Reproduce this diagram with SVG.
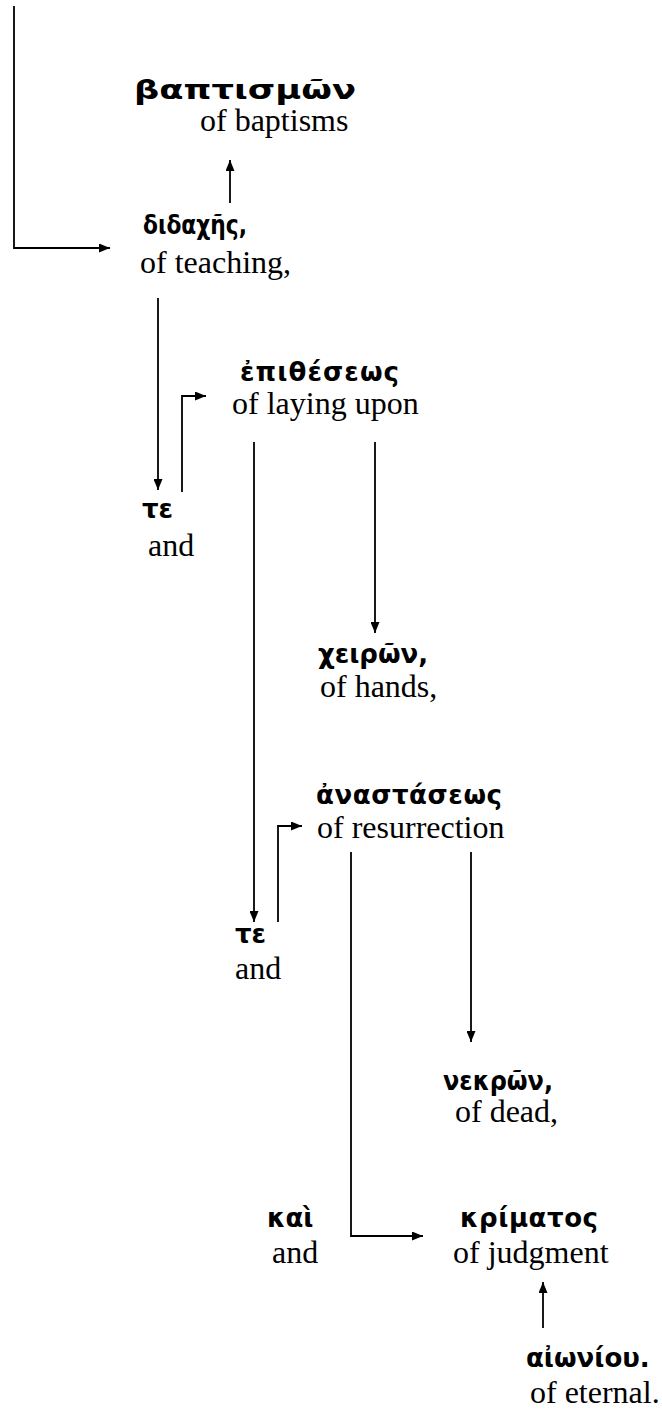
<svg xmlns="http://www.w3.org/2000/svg" width="662" height="1410" viewBox="0 0 662 1410">
<style>
.gk{font-family:"DejaVu Sans","Noto Sans",sans-serif;font-weight:bold;font-size:26px;fill:#000}
.en{font-family:"Liberation Serif","Times New Roman",serif;font-size:32px;fill:#000}
.ln{fill:none;stroke:#000;stroke-width:1.8}
</style>
<defs>
<marker id="ah" viewBox="0 0 11 9" refX="11" refY="4.5" markerWidth="11" markerHeight="9" markerUnits="userSpaceOnUse" orient="auto">
<path d="M0,0 L11,4.5 L0,9 z" fill="#000"/>
</marker>
</defs>
<rect width="662" height="1410" fill="#fff"/>
<g id="connectors">
<path class="ln" d="M14,6 V248 H110" marker-end="url(#ah)"/>
<path class="ln" d="M230,203 V160" marker-end="url(#ah)"/>
<path class="ln" d="M158,298 V490" marker-end="url(#ah)"/>
<path class="ln" d="M182,492 V396 H206" marker-end="url(#ah)"/>
<path class="ln" d="M254,442 V922" marker-end="url(#ah)"/>
<path class="ln" d="M375,442 V633" marker-end="url(#ah)"/>
<path class="ln" d="M278,922 V826 H302" marker-end="url(#ah)"/>
<path class="ln" d="M351,852 V1236 H423" marker-end="url(#ah)"/>
<path class="ln" d="M471,852 V1042" marker-end="url(#ah)"/>
<path class="ln" d="M543,1328 V1282" marker-end="url(#ah)"/>
</g>
<g id="n-baptismon"><text class="gk" x="134" y="99" font-size="28" textLength="222" lengthAdjust="spacingAndGlyphs">βαπτισμῶν</text><text class="en" x="200" y="131">of baptisms</text></g>
<g id="n-didaches"><text class="gk" x="143" y="234" textLength="104" lengthAdjust="spacingAndGlyphs">διδαχῆς,</text><text class="en" x="140" y="273">of teaching,</text></g>
<g id="n-epitheseos"><text class="gk" x="240" y="381" textLength="159" lengthAdjust="spacing">ἐπιθέσεως</text><text class="en" x="232" y="414">of laying upon</text></g>
<g id="n-te1"><text class="gk" x="142" y="518">τε</text><text class="en" x="148" y="556">and</text></g>
<g id="n-cheiron"><text class="gk" x="318" y="663">χειρῶν,</text><text class="en" x="320" y="697">of hands,</text></g>
<g id="n-anastaseos"><text class="gk" x="316" y="804" textLength="186" lengthAdjust="spacing">ἀναστάσεως</text><text class="en" x="317" y="838">of resurrection</text></g>
<g id="n-te2"><text class="gk" x="235" y="943">τε</text><text class="en" x="235" y="979">and</text></g>
<g id="n-nekron"><text class="gk" x="443" y="1090" textLength="110" lengthAdjust="spacingAndGlyphs">νεκρῶν,</text><text class="en" x="455" y="1122">of dead,</text></g>
<g id="n-kai"><text class="gk" x="267" y="1227">καὶ</text><text class="en" x="272" y="1263">and</text></g>
<g id="n-krimatos"><text class="gk" x="460" y="1227" textLength="138" lengthAdjust="spacing">κρίματος</text><text class="en" x="453" y="1263">of judgment</text></g>
<g id="n-aioniou"><text class="gk" x="526" y="1367">αἰωνίου.</text><text class="en" x="530" y="1403">of eternal.</text></g>
</svg>
